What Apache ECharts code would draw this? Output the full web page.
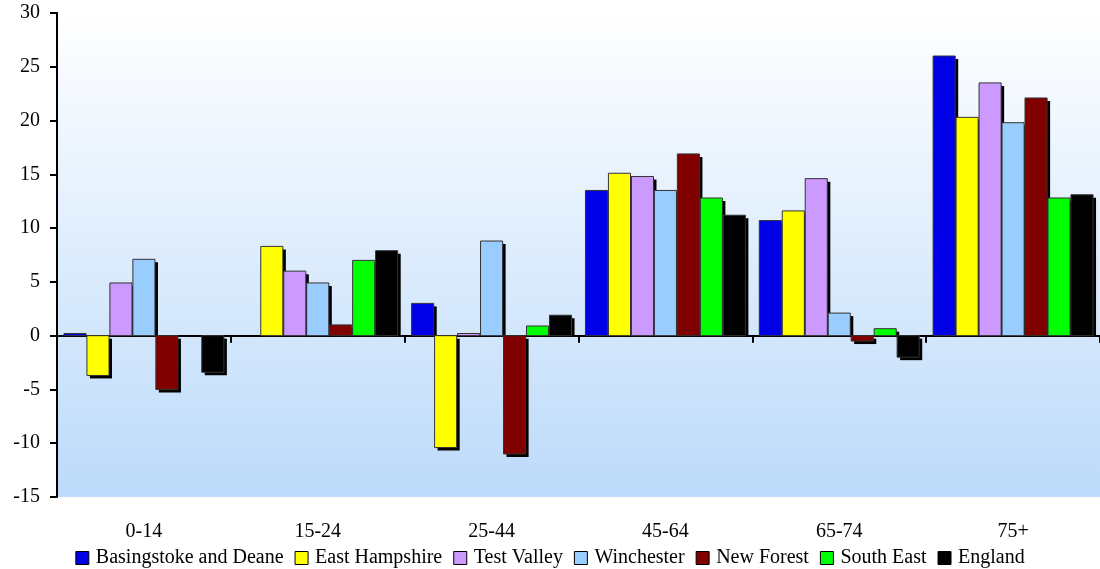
<!DOCTYPE html>
<html><head><meta charset="utf-8">
<script src="https://cdn.jsdelivr.net/npm/echarts@6/dist/echarts.min.js"></script>
<style>html,body{margin:0;padding:0;background:#fff}#c{width:1100px;height:569px}</style>
</head><body><div id="c"></div>
<script>
const categories = ['0-14','15-24','25-44','45-64','65-74','75+'];
const basingstoke = [0.2, 0, 3.0, 13.5, 10.7, 26.0];
const eastHampshire = [-3.7, 8.3, -10.4, 15.1, 11.6, 20.3];
const testValley = [4.9, 6.0, 0.2, 14.8, 14.6, 23.5];
const winchester = [7.1, 4.9, 8.8, 13.5, 2.1, 19.8];
const newForest = [-5.0, 1.0, -11.0, 16.9, -0.5, 22.1];
const southEast = [0, 7.0, 0.9, 12.8, 0.65, 12.8];
const england = [-3.4, 7.9, 1.9, 11.2, -2.0, 13.1];
const yTicks = [-15, -10, -5, 0, 5, 10, 15, 20, 25, 30];

const seriesDefs = [
  ['Basingstoke and Deane', basingstoke, '#0000e6'],
  ['East Hampshire', eastHampshire, '#ffff00'],
  ['Test Valley', testValley, '#cc99ff'],
  ['Winchester', winchester, '#99ccff'],
  ['New Forest', newForest, '#800000'],
  ['South East', southEast, '#00ff00'],
  ['England', england, '#000000']
];
const N = seriesDefs.length;
const CAT_GAP = 0.08, BAR_GAP = 0.04, SHADOW = 3;

function makeRender(idx, color) {
  return function (params, api) {
    const ci = api.value(0), v = api.value(1);
    if (!v) return null;
    const p0 = api.coord([ci, 0]);
    const p1 = api.coord([ci, v]);
    const bw = api.size([1, 0])[0];
    const inner = bw * (1 - CAT_GAP);
    const w = inner / (N + (N - 1) * BAR_GAP);
    const x = p0[0] - inner / 2 + idx * w * (1 + BAR_GAP);
    const top = Math.min(p0[1], p1[1]);
    const h = Math.abs(p1[1] - p0[1]);
    const sTop = top + SHADOW;
    const sBot = v > 0 ? p0[1] : p1[1] + SHADOW;
    return {
      type: 'group',
      children: [
        {type: 'rect', shape: {x: x + SHADOW, y: sTop, width: w, height: Math.max(0, sBot - sTop)}, style: {fill: '#000'}},
        {type: 'rect', shape: {x: x, y: top, width: w, height: h}, style: {fill: color, stroke: '#333', lineWidth: 1}}
      ]
    };
  };
}

const chart = echarts.init(document.getElementById('c'));
const font = '"Liberation Serif", "DejaVu Serif", serif';
chart.setOption({
  animation: false,
  textStyle: {fontFamily: font},
  grid: {
    left: 57, right: 0, top: 13, bottom: 72, show: true, borderWidth: 0,
    backgroundColor: new echarts.graphic.LinearGradient(0, 0, 0, 1, [
      {offset: 0, color: '#ffffff'}, {offset: 1, color: '#bcdafa'}
    ])
  },
  legend: {
    bottom: -4, left: 'center', itemWidth: 13, itemHeight: 13, itemGap: 11,
    icon: 'rect',
    textStyle: {fontFamily: font, fontSize: 20, color: '#000', padding: [0, 0, 0, 2]},
    itemStyle: {borderColor: '#000', borderWidth: 1}
  },
  xAxis: [
    {type: 'category', data: categories, position: 'bottom',
     axisLine: {show: false, onZero: false}, axisTick: {show: false},
     axisLabel: {fontFamily: font, fontSize: 20, color: '#000', margin: 25}},
    {type: 'category', data: categories, position: 'bottom',
     axisLine: {show: true, onZero: true, lineStyle: {color: '#000', width: 2}},
     axisTick: {show: true, length: 7, lineStyle: {color: '#000', width: 2}},
     axisLabel: {show: false}}
  ],
  yAxis: {
    type: 'value', min: -15, max: 30, interval: 5,
    axisLine: {show: true, lineStyle: {color: '#000', width: 2}},
    axisTick: {show: true, length: 7, lineStyle: {color: '#000', width: 2}},
    splitLine: {show: false},
    axisLabel: {fontFamily: font, fontSize: 20, color: '#000', margin: 17,
      formatter: v => yTicks.includes(v) ? String(v) : ''}
  },
  series: seriesDefs.map(([name, data, color], idx) => ({
    name, type: 'custom', xAxisIndex: 0, yAxisIndex: 0,
    data: data.map((v, i) => [i, v]),
    encode: {x: 0, y: 1},
    itemStyle: {color},
    renderItem: makeRender(idx, color)
  }))
});
</script></body></html>
